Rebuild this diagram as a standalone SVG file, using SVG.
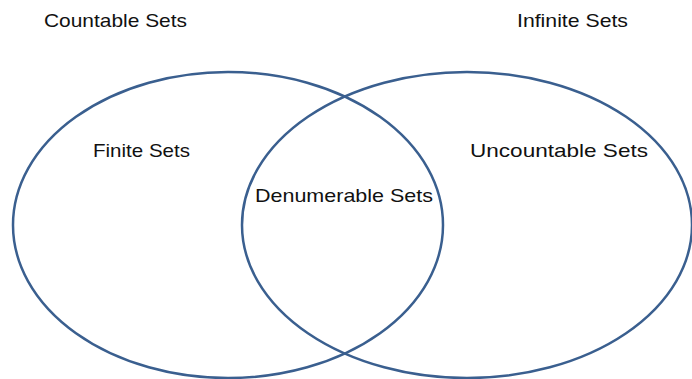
<svg xmlns="http://www.w3.org/2000/svg" width="692" height="379" viewBox="0 0 692 379">
<style>
.set{fill:none;stroke:#3A5F8F;stroke-width:2.5}
.lbl{font-family:"Liberation Sans",Arial,sans-serif;font-size:19px;fill:#111}
</style>
<rect width="692" height="379" fill="#fff"/>
<g id="countable">
<ellipse class="set" cx="228" cy="225" rx="215" ry="153"/>
</g>
<g id="infinite">
<ellipse class="set" cx="467" cy="225" rx="225" ry="153"/>
</g>
<g id="connectors"/>
<g id="labels">
<text class="lbl" x="44" y="27" textLength="143" lengthAdjust="spacingAndGlyphs">Countable Sets</text>
<text class="lbl" x="517" y="27" textLength="111" lengthAdjust="spacingAndGlyphs">Infinite Sets</text>
<text class="lbl" x="93" y="157" textLength="97" lengthAdjust="spacingAndGlyphs">Finite Sets</text>
<text class="lbl" x="470" y="157" textLength="178" lengthAdjust="spacingAndGlyphs">Uncountable Sets</text>
<text class="lbl" x="255" y="202" textLength="178" lengthAdjust="spacingAndGlyphs">Denumerable Sets</text>
</g>
</svg>
